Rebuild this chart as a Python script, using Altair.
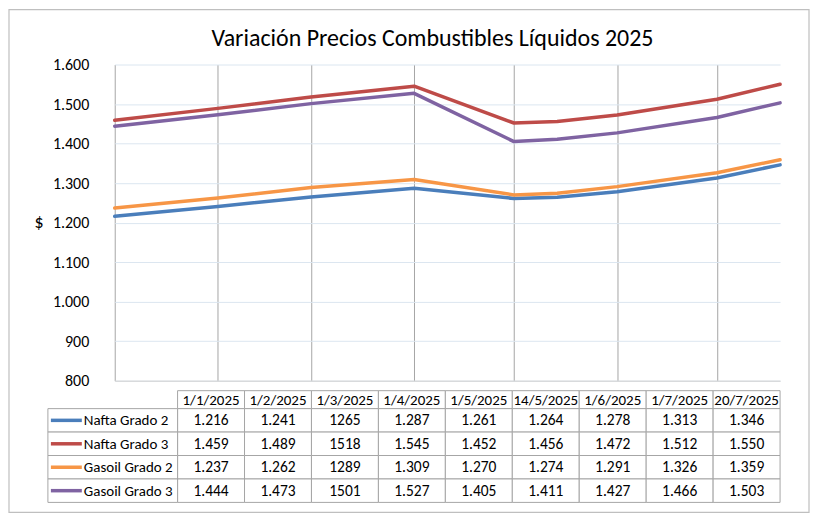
import altair as alt
import pandas as pd

# ---------------- data ----------------
fechas_iso = ["2025-01-01", "2025-02-01", "2025-03-01", "2025-04-01", "2025-05-01",
              "2025-05-14", "2025-06-01", "2025-07-01", "2025-07-20"]
fechas_tabla = ["1/1/2025", "1/2/2025", "1/3/2025", "1/4/2025", "1/5/2025",
                "14/5/2025", "1/6/2025", "1/7/2025", "20/7/2025"]
series = ["Nafta Grado 2", "Nafta Grado 3", "Gasoil Grado 2", "Gasoil Grado 3"]
nafta_g2 = [1216, 1241, 1265, 1287, 1261, 1264, 1278, 1313, 1346]
nafta_g3 = [1459, 1489, 1518, 1545, 1452, 1456, 1472, 1512, 1550]
gasoil_g2 = [1237, 1262, 1289, 1309, 1270, 1274, 1291, 1326, 1359]
gasoil_g3 = [1444, 1473, 1501, 1527, 1405, 1411, 1427, 1466, 1503]
fechas_sin_separador = ["1/3/2025"]          # column shown without thousands dot
y_ticks = [800, 900, 1000, 1100, 1200, 1300, 1400, 1500, 1600]
meses = [1, 2, 3, 4, 5, 6, 7]                 # vertical gridlines (first of month)
colores = ["#4a7ebb", "#be4b48", "#f79646", "#7f63a2"]

valores = [nafta_g2, nafta_g3, gasoil_g2, gasoil_g3]
rows = []
for s, vals in zip(series, valores):
    for f, lab, v in zip(fechas_iso, fechas_tabla, vals):
        txt = str(v) if lab in fechas_sin_separador else f"{v:,}".replace(",", ".")
        rows.append({"serie": s, "fecha": f, "etiqueta": lab, "valor": v, "texto": txt})
df = pd.DataFrame(rows)
df_cab = pd.DataFrame({"etiqueta": fechas_tabla, "fila": "cab"})
df_ley = pd.DataFrame({"serie": series, "col": "leyenda"})

FONT = "Carlito, Calibri, Lato, sans-serif"
GRID_H = "#dce6f0"
GRID_V = "#a6a6a6"
TABLE_LINE = "#a6a6a6"
W, H = 667, 317

def utc(m, d):
    return alt.DateTime(year=2025, month=m, date=d, utc=True)

color = alt.Color("serie:N", scale=alt.Scale(domain=series, range=colores), legend=None)

# ---------------- line chart ----------------
lineas = alt.Chart(df).mark_line(strokeWidth=3.5, strokeJoin="round", strokeCap="round").encode(
    x=alt.X("fecha:T",
            scale=alt.Scale(type="utc", domain=[utc(1, 1), utc(7, 20)], nice=False),
            axis=alt.Axis(values=[utc(m, 1) for m in meses], grid=True, gridColor=GRID_V,
                          gridWidth=1, labels=False, ticks=False, domainColor="#d0d0d0",
                          title=None)),
    y=alt.Y("valor:Q",
            scale=alt.Scale(domain=[800, 1600], nice=False, zero=False),
            axis=alt.Axis(values=y_ticks, grid=True, gridColor=GRID_H, domain=False,
                          ticks=False, labelPadding=26, labelFontSize=16, labelFont=FONT,
                          labelColor="#000",
                          labelExpr="replace(format(datum.value, ','), ',', '.')",
                          title="$", titleAngle=0, titleFontSize=18, titleFont=FONT,
                          titleFontWeight="normal", titleColor="#000", titlePadding=14,
                          titleBaseline="middle")),
    color=color,
    detail="serie:N",
)

# ---------------- data table ----------------
x_tab = alt.X("etiqueta:N", sort=fechas_tabla,
              scale=alt.Scale(domain=fechas_tabla, range=[63, W], paddingInner=0, paddingOuter=0),
              axis=None)
y_cab = alt.Y("fila:N", scale=alt.Scale(domain=["cab"], range=[327, 345],
                                        paddingInner=0, paddingOuter=0), axis=None)
y_fil = alt.Y("serie:N", sort=series,
              scale=alt.Scale(domain=series, range=[345, 439], paddingInner=0, paddingOuter=0),
              axis=None)
x_ley = alt.X("col:N", scale=alt.Scale(domain=["leyenda"], range=[-67, 63],
                                       paddingInner=0, paddingOuter=0), axis=None)

cab_rect = alt.Chart(df_cab).mark_rect(fill="white", stroke=TABLE_LINE, strokeWidth=1).encode(
    x=x_tab, y=y_cab)
cab_text = alt.Chart(df_cab).mark_text(font=FONT, fontSize=15, color="#000").encode(
    x=x_tab, y=y_cab, text="etiqueta:N")
cel_rect = alt.Chart(df).mark_rect(fill="white", stroke=TABLE_LINE, strokeWidth=1).encode(
    x=x_tab, y=y_fil)
cel_text = alt.Chart(df).mark_text(font=FONT, fontSize=15.5, color="#000").encode(
    x=x_tab, y=y_fil, text="texto:N")
ley_rect = alt.Chart(df_ley).mark_rect(fill="white", stroke=TABLE_LINE, strokeWidth=1).encode(
    x=x_ley, y=y_fil)
ley_sym = alt.Chart(df_ley).mark_point(shape="stroke", size=961, strokeWidth=3.5, opacity=1,
                                       xOffset=-46.5).encode(
    x=x_ley, y=y_fil, color=color)
ley_text = alt.Chart(df_ley).mark_text(font=FONT, fontSize=15, color="#000", align="left",
                                       dx=-29).encode(
    x=x_ley, y=y_fil, text="serie:N")

marco = alt.Chart(pd.DataFrame({"k": [0]})).mark_rect(
    filled=False, stroke="#bfbfbf", strokeWidth=1.2).encode(
    x=alt.value(-106), x2=alt.value(696), y=alt.value(-55), y2=alt.value(449))

chart = alt.layer(
    marco, lineas, cab_rect, cab_text, cel_rect, cel_text, ley_rect, ley_sym, ley_text
).resolve_scale(
    x="independent", y="independent", color="shared"
).properties(
    width=W, height=H,
    padding={"left": 0, "top": 0, "right": 0, "bottom": 0},
    title=alt.TitleParams("Variación Precios Combustibles Líquidos 2025", font=FONT,
                          fontSize=24, fontWeight="normal", color="#000", anchor="middle",
                          frame="group", dx=-15, offset=-42),
).configure_view(stroke=None)

chart.save("out.html", embed_options={"renderer": "svg", "actions": False})
